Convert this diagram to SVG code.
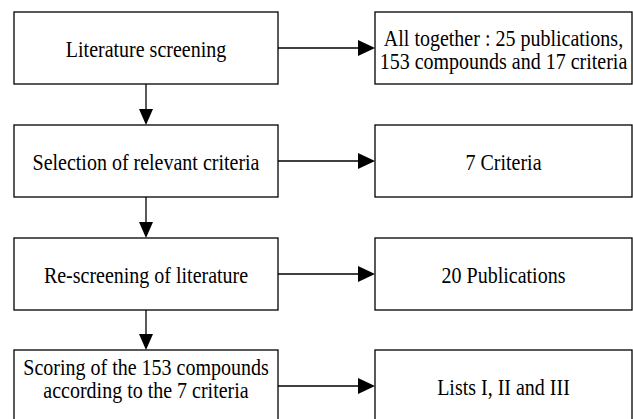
<svg xmlns="http://www.w3.org/2000/svg" width="633" height="419" viewBox="0 0 633 419">
<style>
.box{fill:#fff;stroke:#000;stroke-width:1.3}
.t{font-family:"Liberation Serif","Times New Roman",serif;font-size:20px;fill:#000;text-anchor:middle}
.c{stroke:#000;stroke-width:1.3;fill:none}
.h{fill:#000}
</style>
<rect width="633" height="419" fill="#fff"/>
<g id="connectors">
<line class="c" x1="278" y1="48" x2="360" y2="48"/><polygon class="h" points="358,40 375,48 358,56"/>
<line class="c" x1="278" y1="161" x2="360" y2="161"/><polygon class="h" points="358,153 375,161 358,169"/>
<line class="c" x1="278" y1="274" x2="360" y2="274"/><polygon class="h" points="358,266 375,274 358,282"/>
<line class="c" x1="278" y1="386" x2="360" y2="386"/><polygon class="h" points="358,378 375,386 358,394"/>
<line class="c" x1="146" y1="84" x2="146" y2="110"/><polygon class="h" points="139,109 153,109 146,125"/>
<line class="c" x1="146" y1="197" x2="146" y2="223"/><polygon class="h" points="139,222 153,222 146,238"/>
<line class="c" x1="146" y1="310" x2="146" y2="335"/><polygon class="h" points="139,334 153,334 146,350"/>
</g>
<g id="n1"><rect class="box" x="14" y="12" width="264" height="72"/><text class="t" transform="translate(146,57) scale(1,1.13)">Literature screening</text></g>
<g id="n2"><rect class="box" x="14" y="125" width="264" height="72"/><text class="t" transform="translate(146,170) scale(1,1.13)">Selection of relevant criteria</text></g>
<g id="n3"><rect class="box" x="14" y="238" width="264" height="72"/><text class="t" transform="translate(146,283) scale(1,1.13)">Re-screening of literature</text></g>
<g id="n4"><rect class="box" x="14" y="350" width="264" height="72"/><text class="t" transform="translate(146,375) scale(1,1.13)">Scoring of the 153 compounds</text><text class="t" transform="translate(146,398) scale(1,1.13)">according to the 7 criteria</text></g>
<g id="r1"><rect class="box" x="375" y="12" width="257" height="72"/><text class="t" transform="translate(503.5,46) scale(1,1.13)">All together : 25 publications,</text><text class="t" transform="translate(503.5,69) scale(1,1.13)">153 compounds and 17 criteria</text></g>
<g id="r2"><rect class="box" x="375" y="125" width="257" height="72"/><text class="t" transform="translate(503.5,170) scale(1,1.13)">7 Criteria</text></g>
<g id="r3"><rect class="box" x="375" y="238" width="257" height="72"/><text class="t" transform="translate(503.5,283) scale(1,1.13)">20 Publications</text></g>
<g id="r4"><rect class="box" x="375" y="350" width="257" height="72"/><text class="t" transform="translate(503.5,395) scale(1,1.13)">Lists I, II and III</text></g>
</svg>
